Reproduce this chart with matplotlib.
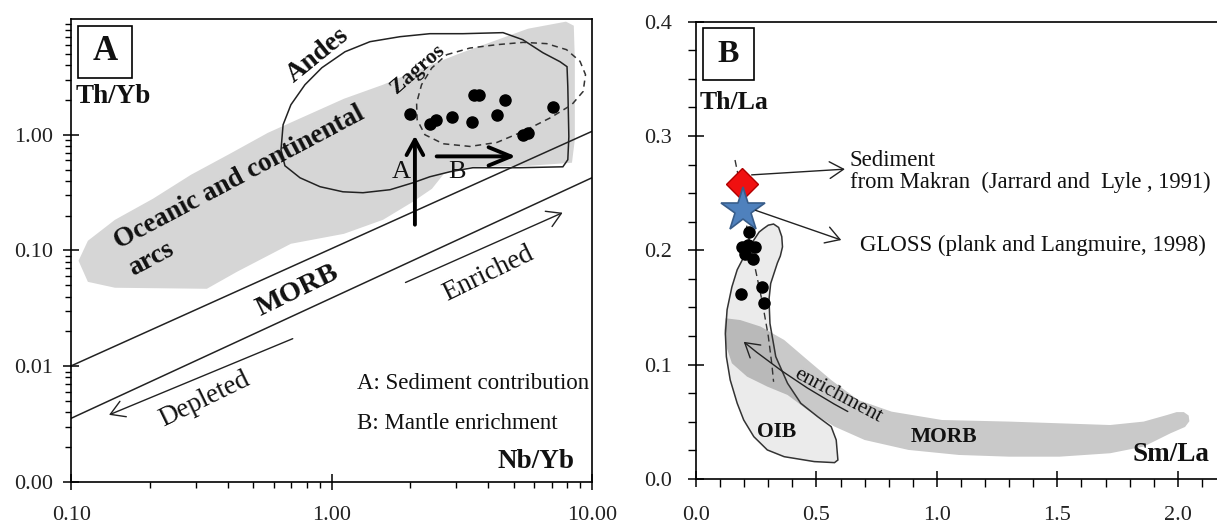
import numpy as np
import matplotlib
matplotlib.use("Agg")
import matplotlib.pyplot as plt
from matplotlib.patches import Polygon, Rectangle
from matplotlib.ticker import LogLocator, MultipleLocator, NullFormatter

plt.rcParams['font.family'] = ['Liberation Serif', 'DejaVu Serif']

# ---------------- Panel A data (Nb/Yb vs Th/Yb) ----------------
nb_yb = [2.0, 2.38, 2.51, 2.90, 3.47, 3.52, 3.68, 4.31, 4.63, 5.41, 5.69, 7.06]
th_yb = [1.51, 1.25, 1.33, 1.43, 1.29, 2.22, 2.19, 1.47, 1.98, 0.99, 1.03, 1.74]

morb_x = [0.1, 10.0]
morb_upper_y = [0.0101, 1.07]
morb_lower_y = [0.00356, 0.425]

# field outlines, stored as (log10 Nb/Yb, log10 Th/Yb)
arcs_field_log = [(-0.973, -1.089), (-0.937, -1.271), (-0.833, -1.322), (-0.480, -1.331),
                  (-0.364, -1.184), (-0.157, -0.942), (0.047, -0.856), (0.197, -0.735),
                  (0.312, -0.579), (0.385, -0.467), (0.431, -0.337), (0.531, -0.277),
                  (0.761, -0.268), (0.923, -0.242), (0.934, -0.043), (0.934, 0.648),
                  (0.930, 0.942), (0.900, 0.977), (0.754, 0.916), (0.489, 0.700),
                  (0.343, 0.570), (0.197, 0.432), (0.047, 0.311), (-0.099, 0.164),
                  (-0.245, 0.017), (-0.391, -0.164), (-0.541, -0.346), (-0.687, -0.553),
                  (-0.833, -0.735), (-0.937, -0.916)]
andes_log = [(-0.195, -0.130), (-0.187, 0.086), (-0.157, 0.259), (-0.103, 0.432),
             (-0.038, 0.579), (0.051, 0.717), (0.147, 0.804), (0.262, 0.847),
             (0.377, 0.873), (0.504, 0.873), (0.658, 0.882), (0.734, 0.821),
             (0.811, 0.709), (0.877, 0.631), (0.904, 0.588), (0.907, 0.415),
             (0.911, -0.017), (0.907, -0.216), (0.888, -0.277), (0.723, -0.285),
             (0.542, -0.285), (0.454, -0.320), (0.377, -0.363), (0.312, -0.415),
             (0.224, -0.475), (0.120, -0.501), (0.043, -0.493), (-0.045, -0.449),
             (-0.122, -0.372), (-0.180, -0.268)]
zagros_log = [(0.441, 0.691), (0.531, 0.749), (0.634, 0.778), (0.736, 0.798),
              (0.826, 0.787), (0.902, 0.735), (0.954, 0.634), (0.975, 0.519),
              (0.966, 0.374), (0.922, 0.259), (0.838, 0.144), (0.736, 0.029),
              (0.634, -0.067), (0.531, -0.101), (0.428, -0.078), (0.358, 0.0),
              (0.328, 0.130), (0.326, 0.274), (0.345, 0.432), (0.384, 0.576)]

a_xticks = [0.1, 1.0, 10.0]
a_xticklabels = ['0.10', '1.00', '10.00']
a_yticks = [0.001, 0.01, 0.1, 1.0]
a_yticklabels = ['0.00', '0.01', '0.10', '1.00']

# ---------------- Panel B data (Sm/La vs Th/La) ----------------
sm_la = [0.221, 0.190, 0.217, 0.245, 0.203, 0.238, 0.187, 0.273, 0.282]
th_la = [0.216, 0.203, 0.205, 0.203, 0.197, 0.192, 0.162, 0.168, 0.154]
sediment_makran = (0.190, 0.258)
gloss = (0.196, 0.235)

trend_x = [0.162, 0.19, 0.215, 0.245, 0.275, 0.30, 0.315, 0.322]
trend_y = [0.279, 0.25, 0.215, 0.185, 0.155, 0.125, 0.10, 0.085]

oib_field = [(0.280, 0.219), (0.300, 0.222), (0.322, 0.223), (0.343, 0.220), (0.356, 0.212),
             (0.359, 0.203), (0.350, 0.195), (0.338, 0.189),
             (0.310, 0.171), (0.303, 0.157), (0.307, 0.136), (0.331, 0.107), (0.380, 0.0837),
             (0.435, 0.0662), (0.505, 0.0545), (0.561, 0.0458), (0.582, 0.0341), (0.589, 0.0166),
             (0.575, 0.0143), (0.491, 0.0152), (0.366, 0.0195), (0.296, 0.0254), (0.240, 0.037),
             (0.198, 0.0516), (0.171, 0.0662), (0.142, 0.0866), (0.126, 0.107), (0.122, 0.127),
             (0.129, 0.148), (0.149, 0.168), (0.171, 0.183), (0.198, 0.194), (0.240, 0.209),
             (0.262, 0.216)]
morb_field = [(0.122, 0.1406), (0.184, 0.139), (0.268, 0.1333), (0.366, 0.1216), (0.463, 0.1041),
              (0.561, 0.0866), (0.673, 0.0691), (0.812, 0.0589), (1.021, 0.0516), (1.300, 0.0502),
              (1.509, 0.0487), (1.719, 0.0472), (1.858, 0.0502), (1.956, 0.056), (1.995, 0.0585),
              (2.025, 0.0585), (2.045, 0.0555), (2.048, 0.0505), (2.030, 0.0455),
              (1.970, 0.040), (1.858, 0.0283), (1.719, 0.0225),
              (1.509, 0.0195), (1.300, 0.0195), (1.091, 0.021), (0.882, 0.0254), (0.700, 0.0341),
              (0.575, 0.0458), (0.463, 0.0604), (0.380, 0.0735), (0.296, 0.0808), (0.212, 0.0895),
              (0.149, 0.1012), (0.126, 0.1158), (0.117, 0.130)]

b_xticks = [0.0, 0.5, 1.0, 1.5, 2.0]
b_yticks = [0.0, 0.1, 0.2, 0.3, 0.4]

# ---------------- Figure ----------------
fig = plt.figure(figsize=(12.17, 5.26), dpi=100)
axA = fig.add_axes([0.05875, 0.0837, 0.4277, 0.8802])
axB = fig.add_axes([0.5719, 0.0894, 0.4355, 0.8694])

TXT = '#111111'

def to_lin(pts):
    arr = np.array(pts)
    return np.power(10.0, arr)

# ----- Panel A -----
axA.set_xscale('log')
axA.set_yscale('log')
axA.set_xlim(0.1, 10)
axA.set_ylim(0.001, 10)

axA.add_patch(Polygon(to_lin(arcs_field_log), closed=True, facecolor='#d6d6d6',
                      edgecolor='none', zorder=1))
axA.plot(morb_x, morb_upper_y, color='#222222', lw=1.1, zorder=2)
axA.plot(morb_x, morb_lower_y, color='#222222', lw=1.1, zorder=2)
axA.add_patch(Polygon(to_lin(andes_log), closed=True, facecolor='none',
                      edgecolor='#222222', lw=1.1, zorder=3))
axA.add_patch(Polygon(to_lin(zagros_log), closed=True, facecolor='none',
                      edgecolor='#333333', lw=1.1, linestyle=(0, (4, 3)), zorder=3))
axA.plot(nb_yb, th_yb, 'o', color='black', ms=8, zorder=5)

# arrows A and B
axA.annotate('', xy=(2.087, 0.98), xytext=(2.087, 0.167),
             arrowprops=dict(arrowstyle='->,head_length=0.55,head_width=0.3', lw=2.8,
                             color='black', shrinkA=0, shrinkB=0, mutation_scale=20), zorder=6)
axA.annotate('', xy=(5.1, 0.65), xytext=(2.53, 0.65),
             arrowprops=dict(arrowstyle='->,head_length=0.8,head_width=0.33', lw=2.8,
                             color='black', shrinkA=0, shrinkB=0, mutation_scale=20), zorder=6)
axA.text(1.85, 0.48, 'A', fontsize=19, ha='center', va='center', color=TXT, zorder=7)
axA.text(3.02, 0.48, 'B', fontsize=19, ha='center', va='center', color=TXT, zorder=7)

# enriched / depleted arrows
axA.annotate('', xy=(7.71, 0.212), xytext=(1.92, 0.0529),
             arrowprops=dict(arrowstyle='->,head_length=0.5,head_width=0.3', lw=1.0,
                             color='#222222', shrinkA=0, shrinkB=0, mutation_scale=20))
axA.annotate('', xy=(0.1394, 0.0038), xytext=(0.708, 0.0173),
             arrowprops=dict(arrowstyle='->,head_length=0.5,head_width=0.3', lw=1.0,
                             color='#222222', shrinkA=0, shrinkB=0, mutation_scale=20))

rot_kw = dict(ha='center', va='center', rotation_mode='anchor', color=TXT, zorder=7)
axA.text(0.885, 4.9, 'Andes', fontsize=19.5, fontweight='bold', rotation=39, **rot_kw)
axA.text(2.15, 3.65, 'Zagros', fontsize=15.5, fontweight='bold', rotation=41, **rot_kw)
axA.text(0.44, 0.425, 'Oceanic and continental', fontsize=19.5, fontweight='bold', rotation=28, **rot_kw)
axA.text(0.202, 0.084, 'arcs', fontsize=19.5, fontweight='bold', rotation=28, **rot_kw)
axA.text(0.738, 0.045, 'MORB', fontsize=20.5, fontweight='bold', rotation=26, **rot_kw)
axA.text(4.0, 0.0624, 'Enriched', fontsize=19.5, rotation=26, **rot_kw)
axA.text(0.325, 0.00515, 'Depleted', fontsize=19.5, rotation=26, **rot_kw)

axA.text(1.25, 0.00705, 'A: Sediment contribution', fontsize=16.5, ha='left', va='center', color=TXT)
axA.text(1.25, 0.00318, 'B: Mantle enrichment', fontsize=16.5, ha='left', va='center', color=TXT)
axA.text(8.6, 0.00149, 'Nb/Yb', fontsize=19.5, fontweight='bold', ha='right', va='center', color=TXT)
axA.text(0.1035, 2.14, 'Th/Yb', fontsize=19.5, fontweight='bold', ha='left', va='center', color=TXT)

axA.add_patch(Rectangle((0.0125, 0.873), 0.1035, 0.112, transform=axA.transAxes,
                        facecolor='white', edgecolor='black', lw=1.2, zorder=8))
axA.text(0.064, 0.929, 'A', transform=axA.transAxes, fontsize=25, fontweight='bold',
         ha='center', va='center', color=TXT, zorder=9)

axA.set_xticks(a_xticks)
axA.set_xticklabels(a_xticklabels)
axA.set_yticks(a_yticks)
axA.set_yticklabels(a_yticklabels)
axA.xaxis.set_minor_locator(LogLocator(base=10, subs=np.arange(2, 10)))
axA.yaxis.set_minor_locator(LogLocator(base=10, subs=np.arange(2, 10)))
axA.xaxis.set_minor_formatter(NullFormatter())
axA.yaxis.set_minor_formatter(NullFormatter())
axA.tick_params(which='major', direction='inout', length=11, width=1.1, labelsize=16,
                colors='black', labelcolor='#222222')
axA.tick_params(axis='x', which='major', pad=12)
axA.tick_params(axis='y', which='major', pad=8)
axA.tick_params(which='minor', direction='out', length=4.5, width=1.0)
for s in axA.spines.values():
    s.set_linewidth(1.2)

# ----- Panel B -----
axB.set_xlim(0, 2.2)
axB.set_ylim(0, 0.4)

axB.add_patch(Polygon(oib_field, closed=True, facecolor='#ebebeb', edgecolor='none', zorder=1))
axB.add_patch(Polygon(morb_field, closed=True, facecolor='black', alpha=0.21,
                      edgecolor='none', zorder=2))
axB.add_patch(Polygon(oib_field, closed=True, facecolor='none', edgecolor='#333333',
                      lw=1.1, zorder=3))
axB.plot(trend_x, trend_y, color='#333333', lw=1.0, linestyle=(0, (5, 3)), zorder=3)
axB.plot(sm_la, th_la, 'o', color='black', ms=8, zorder=5)
axB.plot([sediment_makran[0]], [sediment_makran[1]], 'D', ms=16.5, markerfacecolor='#f01010',
         markeredgecolor='#b00000', markeredgewidth=1.0, zorder=5)
axB.plot([gloss[0]], [gloss[1]], '*', ms=33, markerfacecolor='#4f81bd',
         markeredgecolor='#385d8a', markeredgewidth=1.2, zorder=6)

axB.annotate('', xy=(0.618, 0.271), xytext=(0.231, 0.266),
             arrowprops=dict(arrowstyle='->,head_length=0.5,head_width=0.3', lw=1.0,
                             color='#222222', shrinkA=0, shrinkB=0, mutation_scale=20), zorder=7)
axB.annotate('', xy=(0.603, 0.209), xytext=(0.247, 0.235),
             arrowprops=dict(arrowstyle='->,head_length=0.5,head_width=0.3', lw=1.0,
                             color='#222222', shrinkA=0, shrinkB=0, mutation_scale=20), zorder=7)
axB.annotate('', xy=(0.198, 0.12), xytext=(0.63, 0.059),
             arrowprops=dict(arrowstyle='->,head_length=0.5,head_width=0.3', lw=1.0,
                             color='#222222', shrinkA=0, shrinkB=0, mutation_scale=20,
                             connectionstyle='arc3,rad=-0.05'), zorder=7)

axB.text(0.639, 0.279, 'Sediment', fontsize=16.5, ha='left', va='center', color=TXT)
axB.text(0.639, 0.259, 'from Makran  (Jarrard and  Lyle , 1991)', fontsize=16.3,
         ha='left', va='center', color=TXT)
axB.text(0.68, 0.2047, 'GLOSS (plank and Langmuire, 1998)', fontsize=16.5,
         ha='left', va='center', color=TXT)
axB.text(0.59, 0.073, 'enrichment', fontsize=15.5, rotation=-28, ha='center', va='center',
         rotation_mode='anchor', color=TXT)
axB.text(0.335, 0.041, 'OIB', fontsize=15.5, fontweight='bold', ha='center', va='center', color=TXT)
axB.text(1.03, 0.037, 'MORB', fontsize=15.5, fontweight='bold', ha='center', va='center', color=TXT)
axB.text(2.13, 0.021, 'Sm/La', fontsize=19.5, fontweight='bold', ha='right', va='center', color=TXT)
axB.text(0.017, 0.329, 'Th/La', fontsize=18.5, fontweight='bold', ha='left', va='center', color=TXT)

axB.add_patch(Rectangle((0.013, 0.873), 0.096, 0.113, transform=axB.transAxes,
                        facecolor='white', edgecolor='black', lw=1.2, zorder=8))
axB.text(0.061, 0.929, 'B', transform=axB.transAxes, fontsize=23, fontweight='bold',
         ha='center', va='center', color=TXT, zorder=9)

axB.set_xticks(b_xticks)
axB.set_xticklabels([f'{v:.1f}' for v in b_xticks])
axB.set_yticks(b_yticks)
axB.set_yticklabels([f'{v:.1f}' for v in b_yticks])
axB.xaxis.set_minor_locator(MultipleLocator(0.1))
axB.yaxis.set_minor_locator(MultipleLocator(0.025))
axB.tick_params(which='major', direction='inout', length=11, width=1.1, labelsize=16,
                colors='black', labelcolor='#222222')
axB.tick_params(axis='x', which='major', pad=14)
axB.tick_params(axis='y', which='major', pad=12)
axB.tick_params(which='minor', direction='out', length=6, width=1.0)
axB.spines['right'].set_visible(False)
for s in axB.spines.values():
    s.set_linewidth(1.2)

fig.savefig('out.png', dpi=100)
